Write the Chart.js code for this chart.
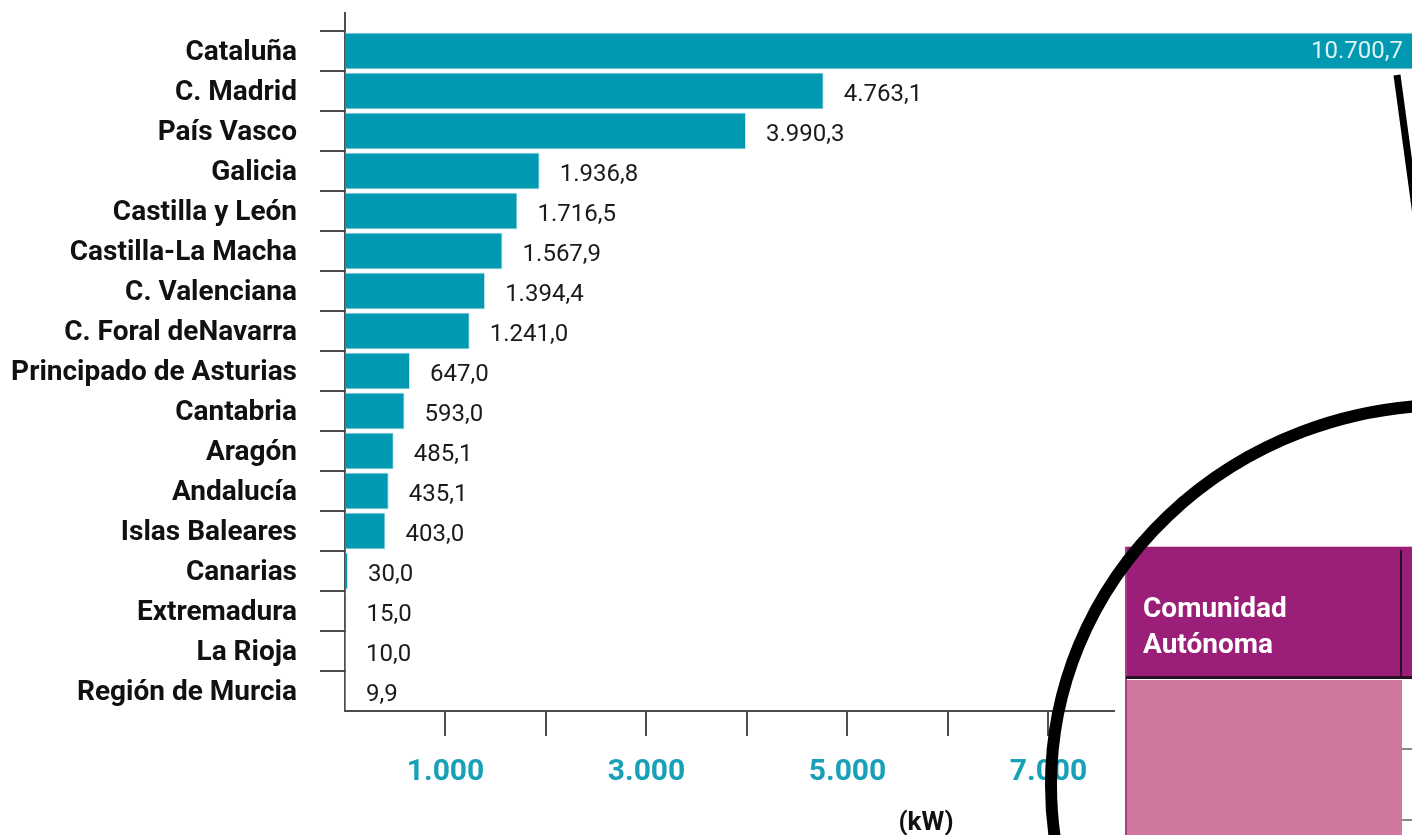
<!DOCTYPE html>
<html>
<head>
<meta charset="utf-8">
<style>
  body { margin: 0; background: #fff; }
  canvas { display: block; }
</style>
</head>
<body>
<canvas id="chart" width="1412" height="835"></canvas>
<script src="https://cdn.jsdelivr.net/npm/chart.js"></script>
<script>
const regions = ['Cataluña', 'C. Madrid', 'País Vasco', 'Galicia', 'Castilla y León',
  'Castilla-La Macha', 'C. Valenciana', 'C. Foral deNavarra', 'Principado de Asturias',
  'Cantabria', 'Aragón', 'Andalucía', 'Islas Baleares', 'Canarias', 'Extremadura',
  'La Rioja', 'Región de Murcia'];
const powerKw = [10700.7, 4763.1, 3990.3, 1936.8, 1716.5, 1567.9, 1394.4, 1241.0,
  647.0, 593.0, 485.1, 435.1, 403.0, 30.0, 15.0, 10.0, 9.9];
const tickValues = [1000, 2000, 3000, 4000, 5000, 6000, 7000, 8000, 9000, 10000];
const labelledTicks = [1000, 3000, 5000, 7000];
const axisUnit = '(kW)';
const tableHeader = ['Comunidad', 'Autónoma'];

const FONT = 'Roboto';
const AXIS = '#4d4d4d';

// spanish number format: 4.763,1
function fmt(v, dec) {
  const parts = v.toFixed(dec).split('.');
  parts[0] = parts[0].replace(/\B(?=(\d{3})+(?!\d))/g, '.');
  return parts.join(',');
}

// keep chart.js from adding label room around the plot
function noPadding(scale) {
  scale.paddingTop = 0;
  scale.paddingBottom = 0;
  scale.paddingLeft = 0;
  scale.paddingRight = 0;
}

const extras = {
  id: 'extras',
  afterDatasetsDraw(chart) {
    const ctx = chart.ctx;
    const area = chart.chartArea;
    const meta = chart.getDatasetMeta(0);
    ctx.save();
    ctx.textBaseline = 'middle';
    ctx.font = '24px ' + FONT;
    meta.data.forEach((bar, i) => {
      const txt = fmt(powerKw[i], 1);
      if (bar.x > area.right - 80) {
        ctx.fillStyle = '#dff2f6';
        ctx.textAlign = 'right';
        ctx.fillText(txt, area.right - 9, bar.y + 1);
      } else {
        ctx.fillStyle = '#1a1a1a';
        ctx.textAlign = 'left';
        ctx.fillText(txt, bar.x + 20, bar.y + 4);
      }
    });
    ctx.restore();
  },
  afterDraw(chart) {
    const ctx = chart.ctx;
    const area = chart.chartArea;
    ctx.save();
    // y axis runs a bit above the first row
    ctx.strokeStyle = AXIS;
    ctx.lineWidth = 2;
    ctx.beginPath();
    ctx.moveTo(area.left, 12);
    ctx.lineTo(area.left, area.top);
    ctx.stroke();

    // unit under the axis
    ctx.fillStyle = '#111';
    ctx.font = 'bold 26px ' + FONT;
    ctx.textAlign = 'center';
    ctx.textBaseline = 'middle';
    ctx.fillText(axisUnit, 926, 823);

    // table fragment on the right
    ctx.fillStyle = '#fff';
    ctx.fillRect(1115, 540, 300, 300);
    ctx.fillStyle = '#9b1f78';
    ctx.fillRect(1125, 547, 290, 131);
    ctx.fillStyle = '#e6b8d6';
    ctx.fillRect(1125, 546, 290, 1);
    ctx.fillStyle = '#d077a0';
    ctx.fillRect(1126, 680, 276, 160);
    ctx.fillStyle = '#a63c8c';
    ctx.fillRect(1125, 547, 2, 290);
    ctx.fillStyle = '#2a1024';
    ctx.fillRect(1400, 550, 2, 126);
    ctx.fillRect(1126, 676, 290, 3);
    ctx.fillStyle = '#8a8a8a';
    ctx.fillRect(1402, 748, 12, 2);
    ctx.fillRect(1402, 819, 12, 2);
    ctx.fillStyle = '#fff';
    ctx.font = 'bold 28px ' + FONT;
    ctx.textAlign = 'left';
    ctx.textBaseline = 'alphabetic';
    ctx.fillText(tableHeader[0], 1143, 617);
    ctx.fillText(tableHeader[1], 1143, 653);

    // black callout ring and pointer
    ctx.strokeStyle = '#000';
    ctx.lineWidth = 7;
    ctx.beginPath();
    ctx.moveTo(1397, 75);
    ctx.lineTo(1416, 215);
    ctx.stroke();
    ctx.lineWidth = 12;
    ctx.beginPath();
    ctx.ellipse(1449, 785, 398, 380, 0, 0, Math.PI * 2);
    ctx.stroke();
    ctx.restore();
  }
};

new Chart(document.getElementById('chart'), {
  type: 'bar',
  data: {
    labels: regions,
    datasets: [{
      data: powerKw,
      backgroundColor: '#0099b1',
      borderColor: '#c6e8ee',
      borderWidth: 1,
      barPercentage: 0.93,
      categoryPercentage: 1
    }]
  },
  options: {
    indexAxis: 'y',
    responsive: false,
    devicePixelRatio: 1,
    animation: false,
    layout: { padding: { top: 31, left: 0, right: 0, bottom: 0 } },
    scales: {
      y: {
        afterFit(scale) { scale.width = 345; noPadding(scale); },
        grid: {
          offset: true,
          drawOnChartArea: false,
          tickLength: 25,
          lineWidth: 2,
          color: c => c.type === 'tick' ? AXIS : 'rgba(0,0,0,0)'
        },
        border: { color: AXIS, width: 2 },
        ticks: {
          padding: 23,
          labelOffset: 2,
          color: '#111',
          font: { family: FONT, size: 28, weight: 'bold' }
        }
      },
      x: {
        min: 0,
        max: 10617,
        afterBuildTicks(scale) { scale.ticks = tickValues.map(v => ({ value: v })); },
        afterFit(scale) { scale.height = 124; noPadding(scale); },
        grid: {
          drawOnChartArea: false,
          tickLength: 25,
          lineWidth: 2,
          color: AXIS
        },
        border: { color: AXIS, width: 2 },
        ticks: {
          autoSkip: false,
          maxRotation: 0,
          padding: 18,
          color: '#17a0b7',
          font: { family: FONT, size: 30, weight: 'bold' },
          callback: v => labelledTicks.includes(v) ? fmt(v, 0) : ''
        }
      }
    },
    plugins: {
      legend: { display: false },
      tooltip: { enabled: false }
    }
  },
  plugins: [extras]
});
</script>
</body>
</html>
